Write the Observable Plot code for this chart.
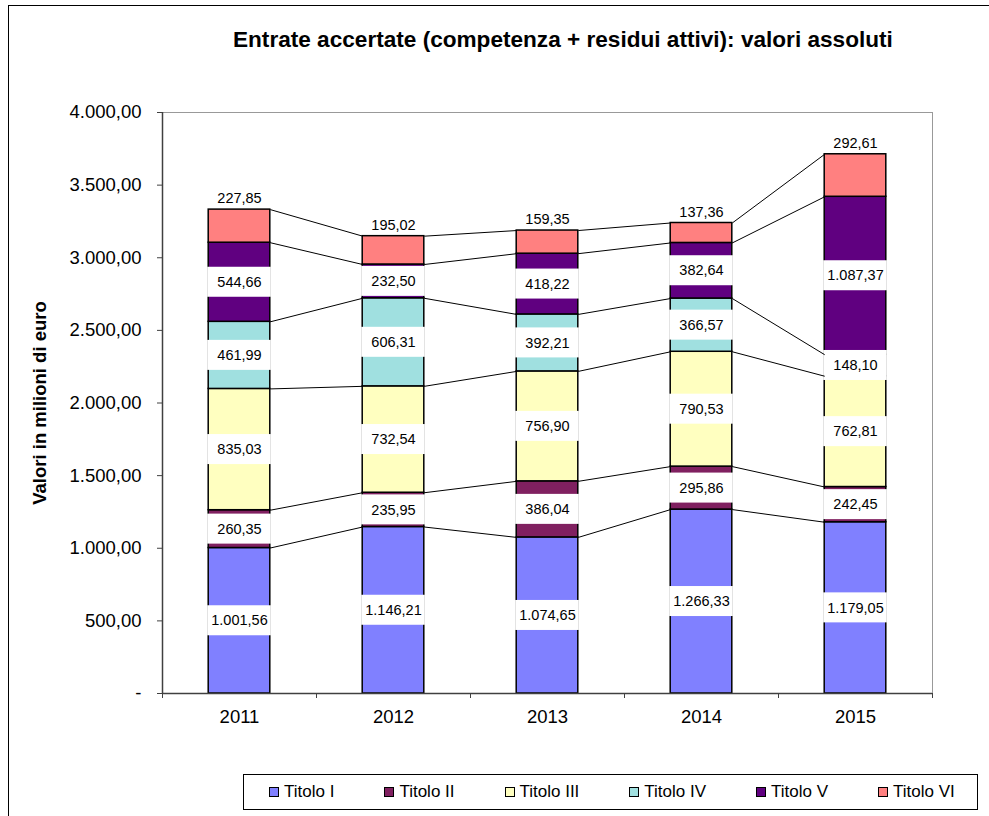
<!DOCTYPE html>
<html>
<head>
<meta charset="utf-8">
<script src="https://cdn.jsdelivr.net/npm/d3@7"></script>
<script src="https://cdn.jsdelivr.net/npm/@observablehq/plot@0.6"></script>
<style>
  body { margin: 0; background: #fff; font-family: Arial, "Liberation Sans", sans-serif; }
  #wrap { position: relative; width: 989px; height: 816px; overflow: hidden; background: #fff; }
  #frame { position: absolute; left: 8px; top: 5px; width: 1000px; height: 830px; border: 1.5px solid #000; box-sizing: border-box; }
  #title { position: absolute; top: 27px; left: 233px; white-space: nowrap; font-weight: bold; font-size: 22.6px; line-height: 26px; color: #000; }
  #chart { position: absolute; left: 0; top: 60px; }
  #legend { position: absolute; left: 243px; top: 774px; width: 735px; height: 36px; border: 1px solid #000; box-sizing: border-box;
            display: flex; align-items: center; padding-left: 25px; gap: 50px; font-size: 17px; }
  .item { display: flex; align-items: center; white-space: nowrap; }
  .sw { width: 8px; height: 8px; border: 1px solid #000; margin-right: 5px; }
</style>
</head>
<body>
<div id="wrap">
  <div id="frame"></div>
  <div id="title">Entrate accertate (competenza + residui attivi): valori assoluti</div>
  <div id="chart"></div>
  <div id="legend"></div>
</div>
<script>
const years = [2011, 2012, 2013, 2014, 2015];
const series = ["Titolo I", "Titolo II", "Titolo III", "Titolo IV", "Titolo V", "Titolo VI"];
const titoloI   = [1001.56, 1146.21, 1074.65, 1266.33, 1179.05];
const titoloII  = [260.35, 235.95, 386.04, 295.86, 242.45];
const titoloIII = [835.03, 732.54, 756.90, 790.53, 762.81];
const titoloIV  = [461.99, 606.31, 392.21, 366.57, 148.10];
const titoloV   = [544.66, 232.50, 418.22, 382.64, 1087.37];
const titoloVI  = [227.85, 195.02, 159.35, 137.36, 292.61];
const colors = ["#8080FF", "#802060", "#FFFFC0", "#A0E0E0", "#600080", "#FF8080"];
const yTicks = [0, 500, 1000, 1500, 2000, 2500, 3000, 3500, 4000];
const yTitle = "Valori in milioni di euro";

const values = [titoloI, titoloII, titoloIII, titoloIV, titoloV, titoloVI];
const it = d3.formatLocale({decimal: ",", thousands: ".", grouping: [3], currency: ["", ""]});
const fmt = it.format(",.2f");
const yFmt = d => d === 0 ? "-" : fmt(d);

const half = 0.2; // half bar width in category units
const rows = [];
years.forEach((yr, i) => {
  let c = 0;
  values.forEach((arr, s) => {
    const v = arr[i];
    rows.push({year: yr, series: series[s], s, value: v, y1: c, y2: c + v, mid: c + v / 2});
    c += v;
  });
});
const tops = series.map((_, s) => rows.filter(r => r.s === s));
const links = [];
tops.forEach(list => {
  for (let i = 0; i < list.length - 1; i++) {
    links.push({x1: list[i].year + half, y1: list[i].y2, x2: list[i + 1].year - half, y2: list[i + 1].y2});
  }
});
const inner = rows.filter(r => r.s < series.length - 1);
const topRows = rows.filter(r => r.s === series.length - 1);

const H = 700, mT = 52, mB = 67;
const pxPerUnit = (H - mT - mB) / 4000;
const boxHalf = 15 / pxPerUnit;
const bounds = years.map(y => y - 0.5).concat([years[years.length - 1] + 0.5]);

const chart = Plot.plot({
  width: 989, height: H,
  marginLeft: 162, marginRight: 57, marginTop: mT, marginBottom: mB,
  style: {fontFamily: "Arial, 'Liberation Sans', sans-serif", fontSize: "16px", color: "#000", background: "transparent"},
  x: {type: "linear", domain: [bounds[0], bounds[bounds.length - 1]], axis: null},
  y: {domain: [0, 4000], axis: null},
  color: {domain: series, range: colors},
  marks: [
    Plot.ruleY([4000], {stroke: "#999", strokeWidth: 1}),
    Plot.ruleX([bounds[bounds.length - 1]], {stroke: "#999", strokeWidth: 1}),
    Plot.rect(rows, {x1: d => d.year - half, x2: d => d.year + half, y1: "y1", y2: "y2", fill: "series", stroke: "#000", strokeWidth: 1.5}),
    Plot.rect(inner, {x1: d => d.year - half, x2: d => d.year + half, y1: d => d.mid - boxHalf, y2: d => d.mid + boxHalf, fill: "#fff", insetLeft: -1, insetRight: -1}),
    Plot.link(links, {x1: "x1", y1: "y1", x2: "x2", y2: "y2", stroke: "#000", strokeWidth: 1}),
    Plot.text(inner, {x: "year", y: "mid", text: d => fmt(d.value), fontSize: 14.5, fill: "#000"}),
    Plot.text(topRows, {x: "year", y: "y2", text: d => fmt(d.value), fontSize: 14.5, fill: "#000", dy: -11}),
    Plot.ruleX([bounds[0]], {stroke: "#404040", strokeWidth: 1.5}),
    Plot.ruleY([0], {stroke: "#404040", strokeWidth: 1.5}),
    Plot.axisY({ticks: yTicks, tickFormat: yFmt, tickSize: 5, tickPadding: 16, fontSize: 18.5, label: null, stroke: "#404040"}),
    Plot.axisX({ticks: bounds, tickFormat: () => "", tickSize: 5, label: null, stroke: "#404040"}),
    Plot.axisX({ticks: years, tickFormat: d => String(d), tickSize: 0, tickPadding: 16, fontSize: 18.5, label: null}),
    Plot.text([yTitle], {frameAnchor: "left", dx: -122, rotate: -90, textAnchor: "middle", lineAnchor: "middle", fontWeight: "bold", fontSize: 18.5, fill: "#000"})
  ]
});
document.getElementById("chart").appendChild(chart);

const legend = document.getElementById("legend");
series.forEach((s, i) => {
  const item = document.createElement("div");
  item.className = "item";
  item.innerHTML = `<span class="sw" style="background:${colors[i]}"></span><span>${s}</span>`;
  legend.appendChild(item);
});
</script>
</body>
</html>
